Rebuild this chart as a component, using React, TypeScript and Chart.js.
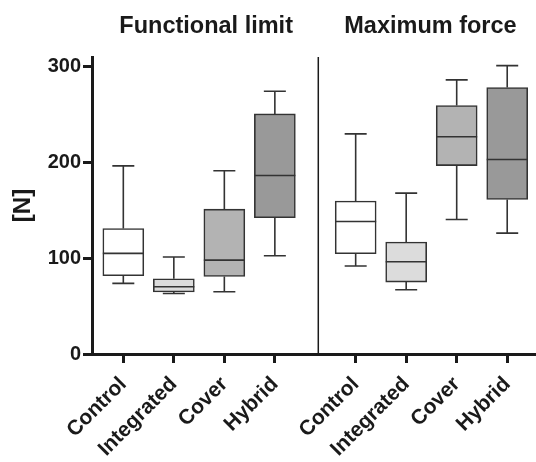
import React, { useEffect, useRef } from "react";
import { Chart, registerables } from "chart.js";
Chart.register(...registerables);

const groupTitles = ["Functional limit", "Maximum force"];
const groupTitleX = [2.64, 7.08];
const categories = ["Control", "Integrated", "Cover", "Hybrid", "Control", "Integrated", "Cover", "Hybrid"];
const positions = [1, 2, 3, 4, 5.6, 6.6, 7.6, 8.6];
const dividerX = 4.86;
const whiskerMin = [73.7, 63.2, 65, 102.5, 91.8, 67.1, 140.4, 126.2];
const q1 = [81.7, 64.7, 81, 142.2, 104.6, 75.1, 196.7, 161.3];
const median = [105, 70.2, 98, 186.3, 138.3, 96.3, 226.7, 203];
const q3 = [131, 78.5, 151.2, 250.6, 159.6, 116.8, 259.3, 278.1];
const whiskerMax = [196.4, 101.2, 191.2, 274.3, 229.8, 167.9, 286.1, 301];
const yTicks = [0, 100, 200, 300];
const boxColors = ["#ffffff", "#dcdcdc", "#b3b3b3", "#999999", "#ffffff", "#dcdcdc", "#b3b3b3", "#999999"];

const FONT = "'Liberation Sans', Arial, Helvetica, sans-serif";
const INK = "#1a1a1a";
const LINE = "#333333";

const boxPlugin = {
  id: "boxWhiskers",
  afterDatasetsDraw(chart: any) {
    const { ctx, scales, chartArea } = chart;
    const x = scales.x;
    const y = scales.y;
    ctx.save();
    ctx.strokeStyle = LINE;
    ctx.lineWidth = 1.6;
    const capHalf = 11;
    const boxHalf = 20.5;
    positions.forEach((p, i) => {
      const cx = x.getPixelForValue(p);
      const yMax = y.getPixelForValue(whiskerMax[i]);
      const yMin = y.getPixelForValue(whiskerMin[i]);
      const yQ1 = y.getPixelForValue(q1[i]);
      const yQ3 = y.getPixelForValue(q3[i]);
      const yMed = y.getPixelForValue(median[i]);
      ctx.beginPath();
      ctx.moveTo(cx, yQ3);
      ctx.lineTo(cx, yMax);
      ctx.moveTo(cx - capHalf, yMax);
      ctx.lineTo(cx + capHalf, yMax);
      ctx.moveTo(cx, yQ1);
      ctx.lineTo(cx, yMin);
      ctx.moveTo(cx - capHalf, yMin);
      ctx.lineTo(cx + capHalf, yMin);
      ctx.moveTo(cx - boxHalf, yMed);
      ctx.lineTo(cx + boxHalf, yMed);
      ctx.stroke();
    });
    const dx = x.getPixelForValue(dividerX);
    ctx.strokeStyle = INK;
    ctx.lineWidth = 1.5;
    ctx.beginPath();
    ctx.moveTo(dx, chartArea.top);
    ctx.lineTo(dx, chartArea.bottom);
    ctx.stroke();
    ctx.fillStyle = INK;
    ctx.font = `bold 23.5px ${FONT}`;
    ctx.textAlign = "center";
    ctx.textBaseline = "alphabetic";
    groupTitles.forEach((t, i) => {
      ctx.fillText(t, x.getPixelForValue(groupTitleX[i]), 33);
    });
    ctx.restore();
  },
};

export default function App() {
  const ref = useRef<HTMLCanvasElement | null>(null);
  useEffect(() => {
    if (!ref.current) return;
    const chart = new Chart(ref.current, {
      type: "bar",
      data: {
        datasets: [
          {
            data: positions.map((p, i) => ({ x: p, y: [q1[i], q3[i]] })) as any,
            backgroundColor: boxColors,
            borderColor: LINE,
            borderWidth: 1.6,
            borderSkipped: false,
            barThickness: 41,
          },
        ],
      },
      options: {
        animation: false,
        responsive: false,
        devicePixelRatio: 1,
        layout: { padding: { top: 57, right: 0, left: 0, bottom: 0 } },
        plugins: { legend: { display: false }, tooltip: { enabled: false }, title: { display: false } },
        scales: {
          x: {
            type: "linear",
            offset: false,
            min: 0.38,
            max: 9.17,
            afterBuildTicks: (axis: any) => {
              axis.ticks = positions.map((v) => ({ value: v }));
            },
            afterFit: (axis: any) => {
              axis.height = 108;
            },
            ticks: {
              autoSkip: false,
              minRotation: 45,
              maxRotation: 45,
              padding: 9,
              color: INK,
              font: { family: FONT, size: 21, weight: "bold" },
              callback: (value: any) => {
                const idx = positions.indexOf(Number(value));
                return idx >= 0 ? categories[idx] : "";
              },
            },
            grid: { offset: false, drawOnChartArea: false, drawTicks: true, tickLength: 9, tickWidth: 3, color: INK },
            border: { color: INK, width: 3 },
          },
          y: {
            type: "linear",
            min: 0,
            max: 310,
            afterBuildTicks: (axis: any) => {
              axis.ticks = yTicks.map((v) => ({ value: v }));
            },
            afterFit: (axis: any) => {
              axis.width = 92;
            },
            ticks: {
              padding: 2,
              color: INK,
              font: { family: FONT, size: 20, weight: "bold" },
            },
            title: {
              display: true,
              text: "[N]",
              color: INK,
              font: { family: FONT, size: 24, weight: "bold" },
              padding: { top: 9, bottom: 0 },
            },
            grid: { drawOnChartArea: false, drawTicks: true, tickLength: 9, tickWidth: 3, color: INK },
            border: { color: INK, width: 3 },
          },
        },
      },
      plugins: [boxPlugin],
    });
    return () => chart.destroy();
  }, []);
  return (
    <div style={{ position: "absolute", left: 0, top: 0, width: 536, height: 462, background: "#fff" }}>
      <canvas ref={ref} width={536} height={462} style={{ display: "block" }} />
    </div>
  );
}
